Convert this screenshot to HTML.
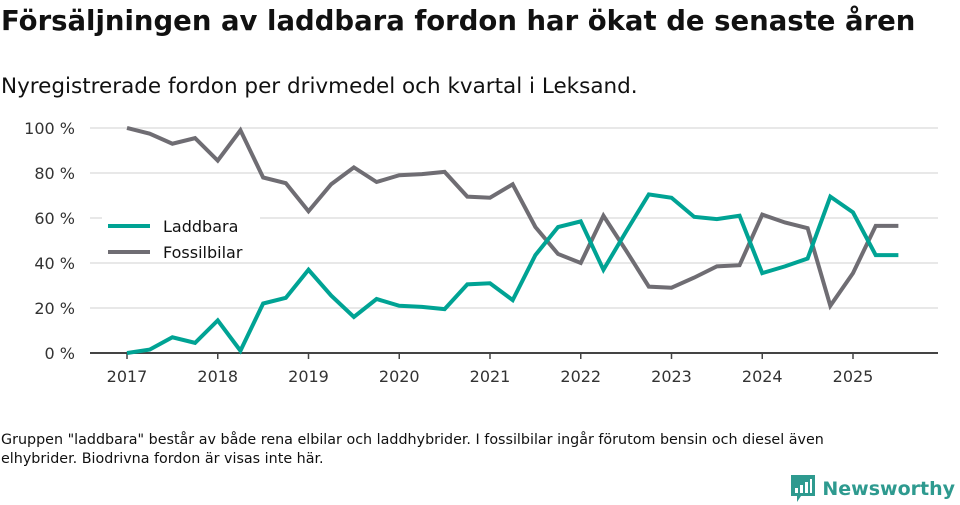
<!DOCTYPE html>
<html><head><meta charset="utf-8"><style>
body{margin:0;width:960px;height:505px;background:#fff;font-family:"DejaVu Sans","Liberation Sans",sans-serif;color:#111;position:relative;overflow:hidden}
#title{position:absolute;left:1px;top:5px;font-size:27.5px;font-weight:bold;margin:0;white-space:nowrap}
#sub{position:absolute;left:1px;top:74px;font-size:21.5px;white-space:nowrap}
#note{position:absolute;left:1px;top:431px;font-size:14.3px;line-height:19px;width:900px}
#logo{position:absolute;right:5px;top:475px;display:flex;align-items:center}
#logo span{color:#2e9a8f;font-size:19px;font-weight:bold;margin-left:7px}
svg text{font-family:"DejaVu Sans","Liberation Sans",sans-serif}
</style></head><body>
<h1 id="title">Försäljningen av laddbara fordon har ökat de senaste åren</h1>
<div id="sub">Nyregistrerade fordon per drivmedel och kvartal i Leksand.</div>
<svg id="chart" width="960" height="505" style="position:absolute;left:0;top:0"></svg>
<div id="note">Gruppen "laddbara" består av både rena elbilar och laddhybrider. I fossilbilar ingår förutom bensin och diesel även elhybrider. Biodrivna fordon är visas inte här.</div>
<div id="logo"><svg width="24" height="28" viewBox="0 0 24 28"><path d="M0 0h24v21h-14l-4 6v-6h-6z" fill="#2e9a8f"/><rect x="4" y="13" width="3" height="5" fill="#fff"/><rect x="9" y="10" width="3" height="8" fill="#fff"/><rect x="14" y="7" width="3" height="11" fill="#fff"/><rect x="19" y="4" width="2" height="14" fill="#fff"/></svg><span>Newsworthy</span></div>
<script>
const years=[2017,2018,2019,2020,2021,2022,2023,2024,2025];
const yTicks=[0,20,40,60,80,100];
const laddbara=[0,1.5,7,4.5,14.5,1,22,24.5,37,25.5,16,24,21,20.5,19.5,30.5,31,23.5,43.5,56,58.5,37,54,70.5,69,60.5,59.5,61,35.5,38.5,42,69.5,62.5,43.5,43.5];
const fossil=[100,97.5,93,95.5,85.5,99,78,75.5,63,75,82.5,76,79,79.5,80.5,69.5,69,75,56,44,40,61,45.5,29.5,29,33.5,38.5,39,61.5,58,55.5,21,35.5,56.5,56.5];
const ns="http://www.w3.org/2000/svg",svg=document.getElementById('chart');
const X=t=>127+(t-2017)*90.75, Y=v=>353-v*2.25;
function mk(tag,attrs){const e=document.createElementNS(ns,tag);for(const k in attrs)e.setAttribute(k,attrs[k]);svg.appendChild(e);return e;}
yTicks.forEach(v=>{
 if(v>0){const g=mk('line',{x1:90,x2:938,y1:Y(v),y2:Y(v),stroke:'#e0e0e0','stroke-width':1.5});
 
 }
 const t=mk('text',{x:75,y:Y(v)+6,'text-anchor':'end','font-size':16,fill:'#333'});t.textContent=v+' %';
 
 
});
const ax=mk('line',{x1:90,x2:938,y1:353,y2:353,stroke:'#444','stroke-width':2});


years.forEach(yr=>{
 const tk=mk('line',{x1:X(yr),x2:X(yr),y1:353,y2:359,stroke:'#444','stroke-width':1.5});
 
 
 const t=mk('text',{x:X(yr),y:382,'text-anchor':'middle','font-size':16,fill:'#333'});t.textContent=yr;
 
 
});
function line(d,c,name){const p=mk('polyline',{points:d.map((v,i)=>X(2017+i/4)+','+Y(v)).join(' '),fill:'none',stroke:c,'stroke-width':4,'stroke-linejoin':'miter'});
 
 }
line(fossil,'#6f6d73','fossilbilar-line');
line(laddbara,'#00a394','laddbara-line');
const lb=mk('rect',{x:102,y:217,width:158,height:45,fill:'#fff'});


[['Laddbara','#00a394',226],['Fossilbilar','#6f6d73',252]].forEach(([n,c,y])=>{
 const l=mk('line',{x1:108,x2:150,y1:y,y2:y,stroke:c,'stroke-width':4});
 
 
 const t=mk('text',{x:163,y:y+6,'font-size':16,fill:'#111'});t.textContent=n;
 
 
});
</script>
</body></html>
